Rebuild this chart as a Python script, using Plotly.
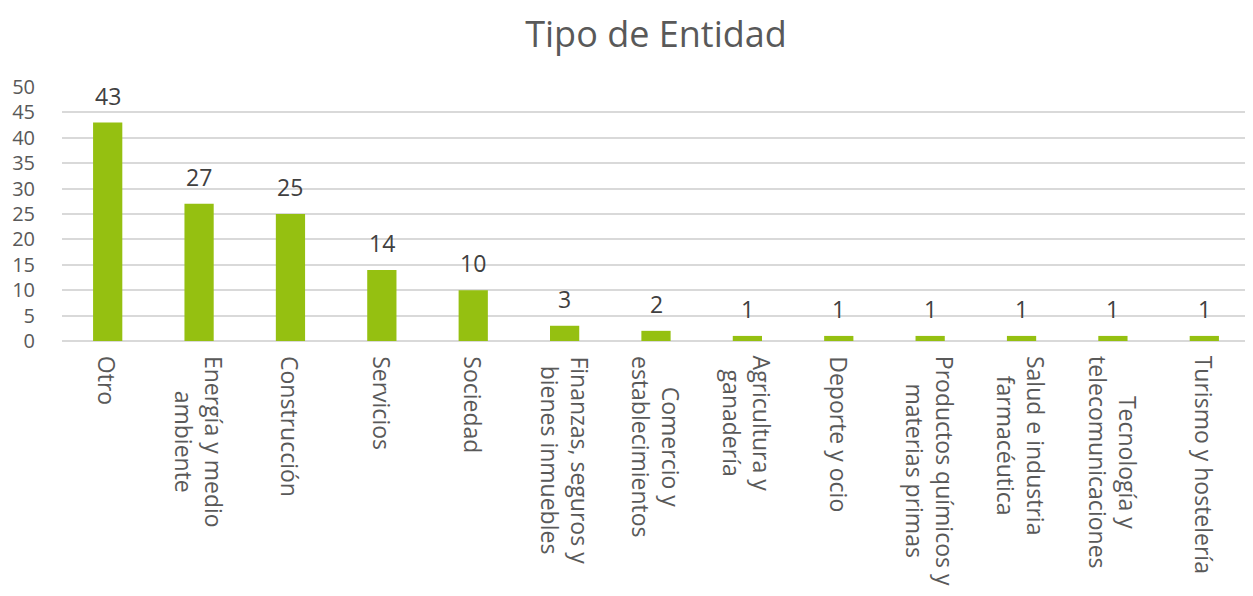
import plotly.graph_objects as go

categories = [
    "Otro",
    "Energía y medio<br>ambiente",
    "Construcción",
    "Servicios",
    "Sociedad",
    "Finanzas, seguros y<br>bienes inmuebles",
    "Comercio y<br>establecimientos",
    "Agricultura y<br>ganadería",
    "Deporte y ocio",
    "Productos químicos y<br>materias primas",
    "Salud e industria<br>farmacéutica",
    "Tecnología y<br>telecomunicaciones",
    "Turismo y hostelería",
]
values = [43, 27, 25, 14, 10, 3, 2, 1, 1, 1, 1, 1, 1]
y_ticks = [0, 5, 10, 15, 20, 25, 30, 35, 40, 45, 50]

FONT = "Open Sans"
GRAY = "#595959"

# page body has an 8px default margin; size the figure to fit the window
W, H = 1245, 588

fig = go.Figure(
    go.Bar(
        x=categories,
        y=values,
        marker=dict(color="#95C011", line=dict(width=0)),
        hoverinfo="x+y",
    )
)

annotations = []
# value labels above bars
for c, v in zip(categories, values):
    annotations.append(dict(
        x=c, y=v, xref="x", yref="y",
        text=str(v), showarrow=False,
        xanchor="center", yanchor="middle", yshift=27,
        font=dict(family=FONT, size=23, color="#404040"),
    ))
# rotated category labels below axis, centered multi-line
for c in categories:
    annotations.append(dict(
        x=c, y=0, xref="x", yref="y",
        text=c, showarrow=False, textangle=90,
        xanchor="center", yanchor="top", yshift=-13,
        align="center",
        font=dict(family=FONT, size=23, color=GRAY),
    ))

fig.update_layout(
    width=W,
    height=H,
    paper_bgcolor="white",
    plot_bgcolor="white",
    bargap=0.68,
    showlegend=False,
    font=dict(family=FONT, color=GRAY, size=22),
    title=dict(
        text="Tipo de Entidad",
        x=0.5,
        xanchor="center",
        xref="paper",
        y=1 - 26 / H,
        yref="container",
        yanchor="middle",
        font=dict(size=36, color=GRAY, family=FONT),
    ),
    margin=dict(l=54, r=3, t=79, b=255, autoexpand=False),
    annotations=annotations,
)
fig.update_xaxes(
    showticklabels=False,
    showgrid=False,
    showline=False,
    ticks="",
    automargin=False,
)
fig.update_yaxes(
    range=[0, 50],
    tickvals=y_ticks,
    tickfont=dict(size=20, color=GRAY, family=FONT),
    showgrid=True,
    gridcolor="#D9D9D9",
    gridwidth=1.5,
    zeroline=True,
    zerolinecolor="#D9D9D9",
    zerolinewidth=1.5,
    ticks="",
    ticklabelstandoff=26,
    automargin=False,
)

fig.write_html("out.html")
